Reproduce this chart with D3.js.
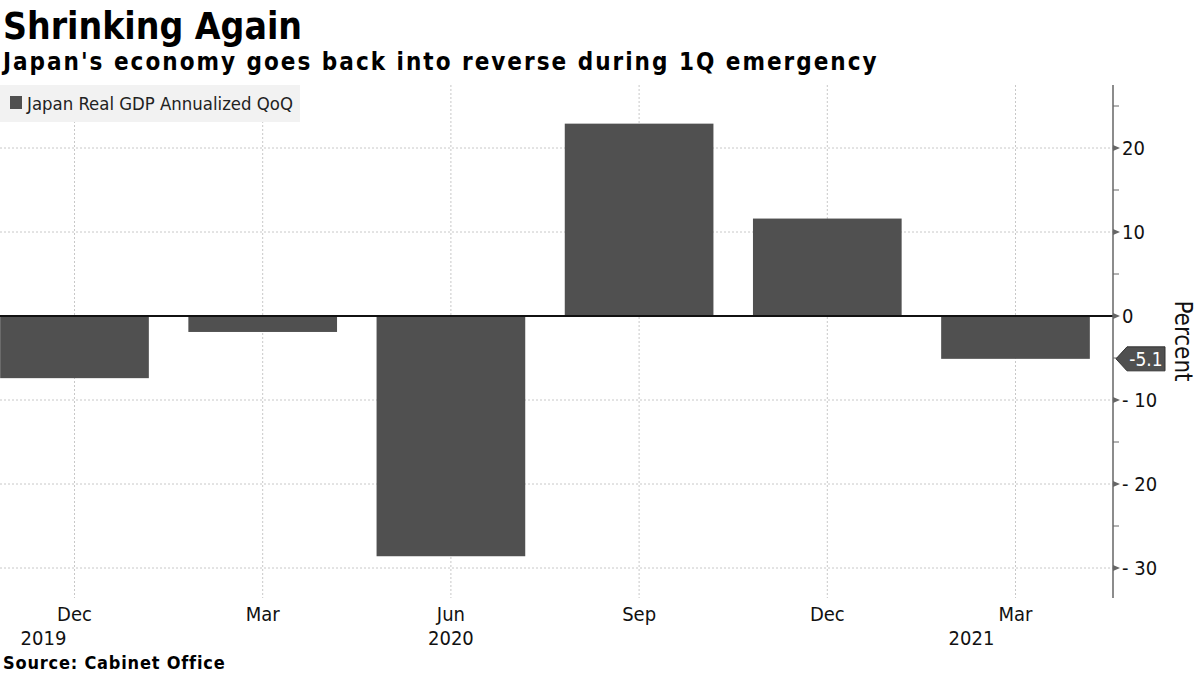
<!DOCTYPE html>
<html><head><meta charset="utf-8">
<script src="https://cdn.jsdelivr.net/npm/d3@7"></script>
<style>
body{margin:0;background:#fff;}
svg{display:block;}
text{font-family:"DejaVu Sans Condensed","Liberation Sans Narrow","Roboto Condensed","DejaVu Sans",sans-serif;}
</style></head>
<body>
<svg id="c" width="1200" height="675"></svg>
<script>
const categories = ["Dec 2019","Mar 2020","Jun 2020","Sep 2020","Dec 2020","Mar 2021"];
const monthLabels = ["Dec","Mar","Jun","Sep","Dec","Mar"];
const yearLabels = ["2019","","2020","","","2021"];
const gdpValues = [-7.4, -1.9, -28.6, 22.9, 11.6, -5.1];
const yTicks = [20, 10, 0, -10, -20, -30];
const yMinorTicks = [25, 15, 5, -5, -15, -25];
const seriesName = "Japan Real GDP Annualized QoQ";

const svg = d3.select("#c");
const axisX = 1113, plotTop = 85, plotBottom = 598;
const x = d3.scaleBand().domain(categories).range([-19.6, 1109.6]).paddingInner(0.21).paddingOuter(0.105);
const y = d3.scaleLinear().domain([20, -30]).range([148, 568]);
const barColor = "#505050";
const yearShift = [-31, 0, 0, 0, 0, -44];

// gridlines
svg.append("g").selectAll("line").data(yTicks.filter(d=>d!==0)).join("line")
  .attr("x1",0).attr("x2",axisX).attr("y1",d=>y(d)).attr("y2",d=>y(d))
  .attr("stroke","#c8c8c8").attr("stroke-dasharray","2,2").attr("stroke-width",1);
svg.append("g").selectAll("line").data(categories).join("line")
  .attr("x1",d=>x(d)+x.bandwidth()/2).attr("x2",d=>x(d)+x.bandwidth()/2)
  .attr("y1",plotTop).attr("y2",plotBottom)
  .attr("stroke","#c8c8c8").attr("stroke-dasharray","2,2").attr("stroke-width",1);

// legend
svg.append("rect").attr("x",0).attr("y",85).attr("width",300).attr("height",37).attr("fill","#f2f2f2");
svg.append("rect").attr("x",10).attr("y",96).attr("width",12).attr("height",13).attr("fill",barColor);
svg.append("text").attr("x",27).attr("y",110).attr("font-size",18.4).attr("fill","#222").text(seriesName);

// bars
svg.append("g").selectAll("rect").data(gdpValues).join("rect")
  .attr("x",(d,i)=>x(categories[i]))
  .attr("width",x.bandwidth())
  .attr("y",d=>y(Math.max(0,d)))
  .attr("height",d=>Math.abs(y(d)-y(0)))
  .attr("fill",barColor);

// zero line
svg.append("line").attr("x1",0).attr("x2",axisX).attr("y1",y(0)).attr("y2",y(0))
  .attr("stroke","#111").attr("stroke-width",2);

// y axis
svg.append("line").attr("x1",axisX).attr("x2",axisX).attr("y1",plotTop).attr("y2",plotBottom)
  .attr("stroke","#666").attr("stroke-width",1.5);
svg.append("g").selectAll("path").data(yTicks).join("path")
  .attr("d",d=>`M${axisX},${y(d)-3}L${axisX+7},${y(d)}L${axisX},${y(d)+3}Z`).attr("fill","#666");
svg.append("g").selectAll("line").data(yMinorTicks).join("line")
  .attr("x1",axisX).attr("x2",axisX+6).attr("y1",d=>y(d)).attr("y2",d=>y(d))
  .attr("stroke","#666").attr("stroke-width",1);
svg.append("g").selectAll("text").data(yTicks).join("text")
  .attr("x",axisX+9).attr("y",d=>y(d)+7).attr("font-size",20).attr("fill","#111")
  .text(d=>d<0 ? "- "+Math.abs(d) : String(d));

// last value label
const last = gdpValues[gdpValues.length-1];
const ly = y(last);
svg.append("path")
  .attr("d",`M${axisX+3},${ly}L${axisX+14},${ly-12}L${axisX+52},${ly-12}L${axisX+52},${ly+12}L${axisX+14},${ly+12}Z`)
  .attr("fill",barColor).attr("stroke","#333").attr("stroke-width",1);
svg.append("text").attr("x",axisX+33).attr("y",ly+7).attr("text-anchor","middle")
  .attr("font-size",19).attr("fill","#fff").text(last.toFixed(1));

// Percent label
svg.append("text").attr("transform",`translate(1175,341) rotate(90)`).attr("text-anchor","middle")
  .attr("font-size",24).attr("fill","#111").text("Percent");

// x labels
svg.append("g").selectAll("text").data(monthLabels).join("text")
  .attr("x",(d,i)=>x(categories[i])+x.bandwidth()/2).attr("y",621).attr("text-anchor","middle")
  .attr("font-size",20).attr("fill","#111").text(d=>d);
svg.append("g").selectAll("text").data(yearLabels).join("text")
  .attr("x",(d,i)=>x(categories[i])+x.bandwidth()/2+yearShift[i]).attr("y",645).attr("text-anchor","middle")
  .attr("font-size",20).attr("fill","#111").text(d=>d);

// titles
svg.append("text").attr("x",3).attr("y",39).attr("font-size",37).attr("font-weight","bold").attr("fill","#000").text("Shrinking Again");
svg.append("text").attr("x",3).attr("y",70).attr("font-size",24).attr("letter-spacing",2).attr("font-weight","bold").attr("fill","#000").text("Japan's economy goes back into reverse during 1Q emergency");
svg.append("text").attr("x",3).attr("y",669).attr("font-size",18).attr("letter-spacing",0.8).attr("font-weight","bold").attr("fill","#000").text("Source:  Cabinet Office");
</script>
</body></html>
